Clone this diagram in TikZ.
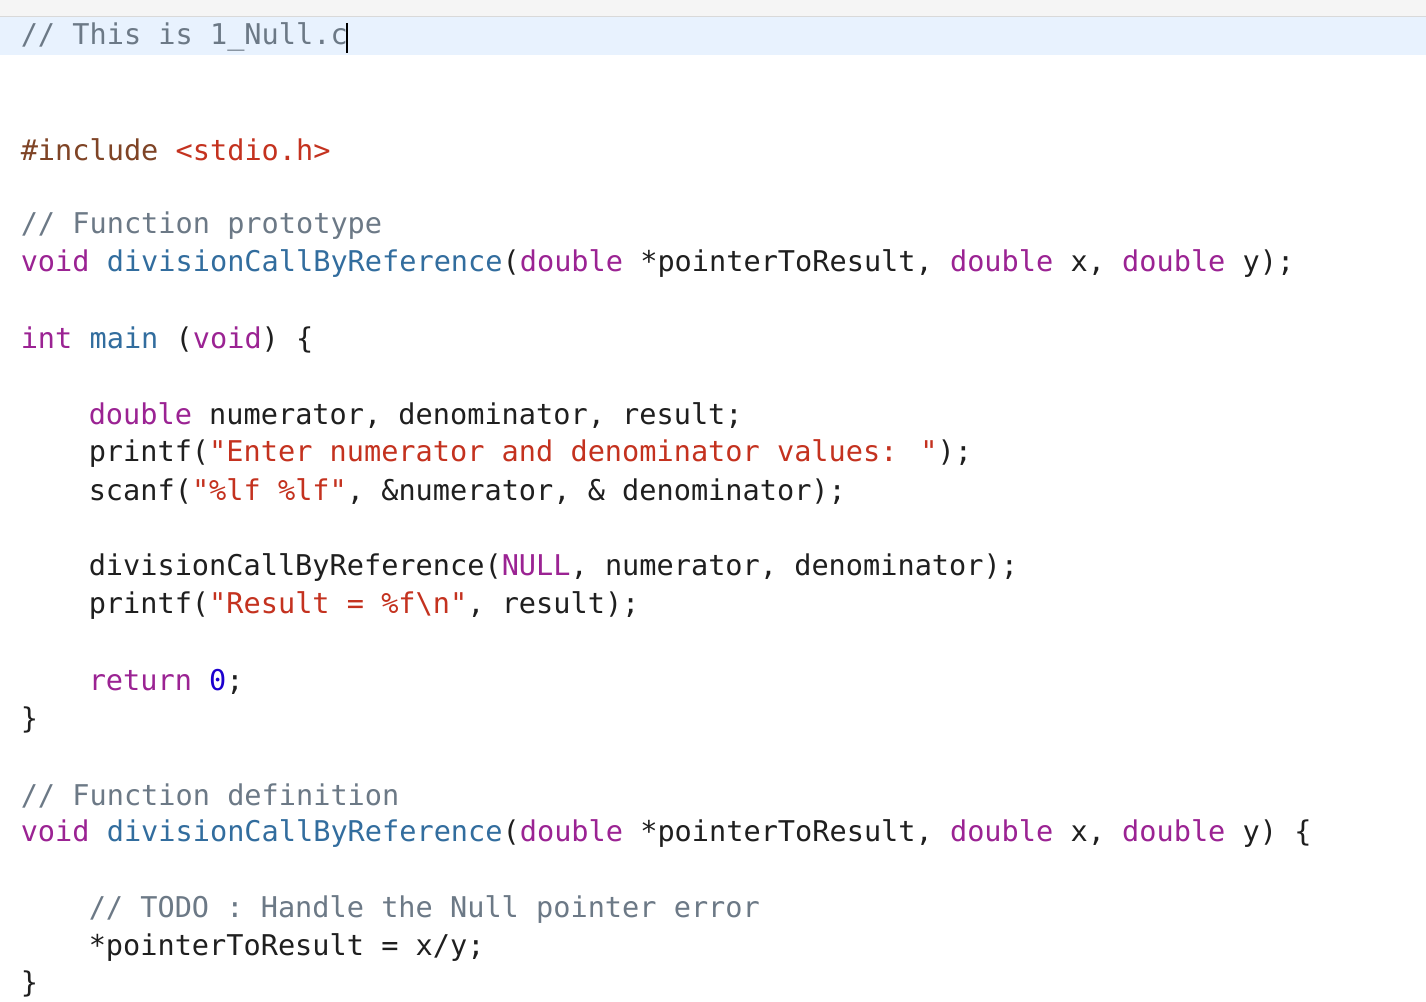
\documentclass[tikz,border=0pt]{standalone}
\usepackage{fontspec}
\newfontfamily\codefont{DejaVu Sans Mono}
\definecolor{kw}{HTML}{9B2393}
\definecolor{fn}{HTML}{326D9E}
\definecolor{str}{HTML}{C4321F}
\definecolor{cm}{HTML}{6C7986}
\definecolor{inc}{HTML}{7F4426}
\definecolor{num}{HTML}{1C00CF}
\definecolor{txt}{HTML}{1F1F1F}
\definecolor{hl}{HTML}{E8F2FE}
\newcommand{\K}[1]{\textcolor{kw}{#1}}
\newcommand{\F}[1]{\textcolor{fn}{#1}}
\newcommand{\Str}[1]{\textcolor{str}{#1}}
\newcommand{\C}[1]{\textcolor{cm}{#1}}
\tikzset{code/.style={anchor=west,inner sep=0pt,font=\codefont\fontsize{14.3}{16}\selectfont,text=txt}}
\begin{document}
\begin{tikzpicture}[x=0.5pt,y=-0.5pt]
\fill[white] (0,0) rectangle (1426,1002);
\fill[black!4] (0,0) rectangle (1426,16);
\fill[hl] (0,17) rectangle (1426,55);
\draw[black!15] (0,16.5) -- (1426,16.5);
\draw[black,line width=1pt] (347,23) -- (347,53);
\node[code] (l1) at (20,37) {\C{// This is 1\_Null.c}};
\node[code] (l2) at (20,150) {\textcolor{inc}{\#include} \Str{<stdio.h>}};
\node[code] (l3) at (20,226) {\C{// Function prototype}};
\node[code] (l4) at (20,264) {\K{void} \F{divisionCallByReference}(\K{double} *pointerToResult, \K{double} x, \K{double} y);};
\node[code] (l5) at (20,340) {\K{int} \F{main} (\K{void}) \{};
\node[code] (l6) at (88,416) {\K{double} numerator, denominator, result;};
\node[code] (l7) at (88,454) {printf(\Str{"Enter numerator and denominator values: "});};
\node[code] (l8) at (88,492) {scanf(\Str{"\%lf \%lf"}, \&numerator, \& denominator);};
\node[code] (l9) at (88,568) {divisionCallByReference(\K{NULL}, numerator, denominator);};
\node[code] (l10) at (88,606) {printf(\Str{"Result = \%f\textbackslash n"}, result);};
\node[code] (l11) at (88,682) {\K{return} \textcolor{num}{0};};
\node[code] (l12) at (20,720) {\}};
\node[code] (l13) at (20,796) {\C{// Function definition}};
\node[code] (l14) at (20,834) {\K{void} \F{divisionCallByReference}(\K{double} *pointerToResult, \K{double} x, \K{double} y) \{};
\node[code] (l15) at (88,910) {\C{// TODO : Handle the Null pointer error}};
\node[code] (l16) at (88,948) {*pointerToResult = x/y;};
\node[code] (l17) at (20,985) {\}};
\end{tikzpicture}
\end{document}
